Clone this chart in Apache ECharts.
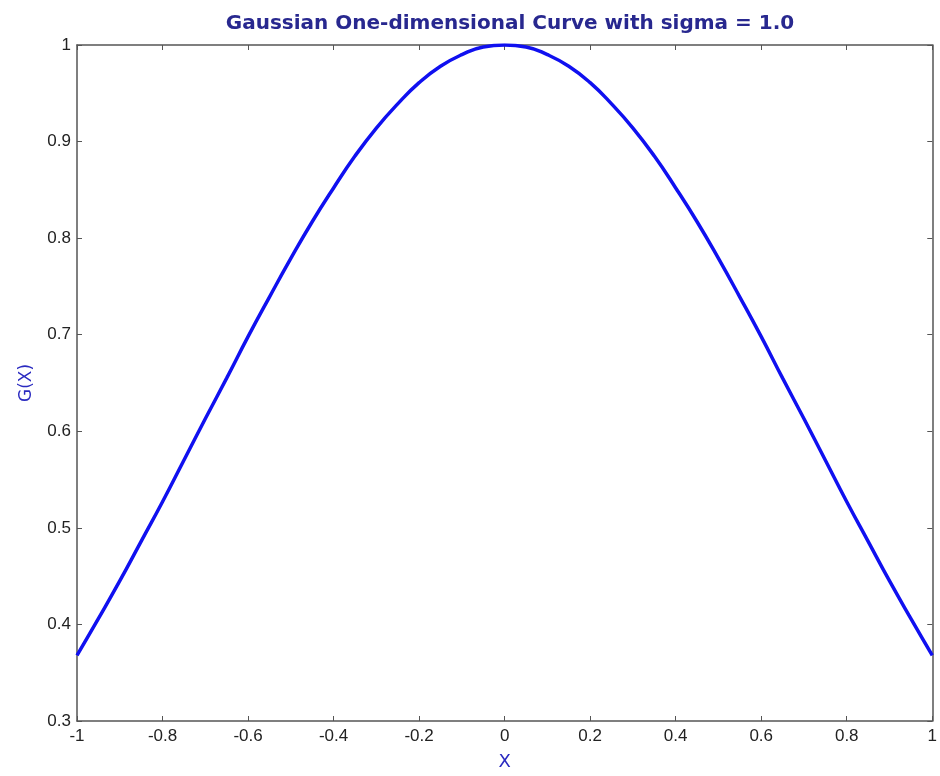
<!DOCTYPE html>
<html>
<head>
<meta charset="utf-8">
<script src="https://cdn.jsdelivr.net/npm/echarts@6/dist/echarts.min.js"></script>
<style>
  html, body { margin: 0; padding: 0; background: #fff; }
  #main { width: 940px; height: 776px; }
</style>
</head>
<body>
<div id="main"></div>
<script>
// x positions and G(x) values
var xValues = [-1, -0.95, -0.9, -0.85, -0.8, -0.75, -0.7, -0.65, -0.6, -0.55, -0.5,
  -0.45, -0.4, -0.35, -0.3, -0.25, -0.2, -0.15, -0.1, -0.05, 0,
  0.05, 0.1, 0.15, 0.2, 0.25, 0.3, 0.35, 0.4, 0.45, 0.5,
  0.55, 0.6, 0.65, 0.7, 0.75, 0.8, 0.85, 0.9, 0.95, 1]
var gValues = [0.368, 0.406, 0.445, 0.486, 0.527, 0.570, 0.613, 0.655, 0.698, 0.739, 0.779,
  0.817, 0.852, 0.885, 0.914, 0.939, 0.961, 0.978, 0.990, 0.998, 1.0,
  0.998, 0.990, 0.978, 0.961, 0.939, 0.914, 0.885, 0.852, 0.817, 0.779,
  0.739, 0.698, 0.655, 0.613, 0.570, 0.527, 0.486, 0.445, 0.406, 0.368]

var titleText = 'Gaussian One-dimensional Curve with sigma = 1.0'
var xName = 'X'
var yName = 'G(X)'

var seriesData = []
for (var i = 0; i < xValues.length; i++) {
  seriesData.push([xValues[i], gValues[i]])
}

var myChart = echarts.init(document.getElementById('main'))

var axisLine = { show: true, onZero: false, lineStyle: { color: '#555', width: 1.5 } }
var tickStyle = { show: true, inside: true, length: 5, lineStyle: { color: '#555' } }
var labelStyle = { color: '#222', fontSize: 17, fontFamily: 'Liberation Sans' }

var option = {
  animation: false,
  backgroundColor: '#fff',
  title: {
    text: titleText,
    left: 505,
    textAlign: 'center',
    top: 9,
    textStyle: { color: '#28288f', fontSize: 20, fontWeight: 'bold', fontFamily: 'DejaVu Sans' }
  },
  grid: { left: 77, right: 6, top: 45, bottom: 54 },
  xAxis: [{
    type: 'value',
    position: 'bottom',
    min: -1,
    max: 1,
    interval: 0.2,
    name: xName,
    nameLocation: 'middle',
    nameGap: 32,
    nameTextStyle: { color: '#2a2ac0', fontSize: 18, fontFamily: 'DejaVu Sans' },
    axisLine: axisLine,
    axisTick: tickStyle,
    axisLabel: Object.assign({ margin: 7 }, labelStyle),
    splitLine: { show: false }
  }, {
    type: 'value',
    position: 'top',
    min: -1,
    max: 1,
    interval: 0.2,
    axisLine: axisLine,
    axisTick: tickStyle,
    axisLabel: { show: false },
    splitLine: { show: false }
  }],
  yAxis: [{
    type: 'value',
    position: 'left',
    min: 0.3,
    max: 1,
    interval: 0.1,
    name: yName,
    nameLocation: 'middle',
    nameGap: 42,
    nameTextStyle: { color: '#2a2ac0', fontSize: 17, fontFamily: 'DejaVu Sans' },
    axisLine: axisLine,
    axisTick: tickStyle,
    axisLabel: Object.assign({ margin: 6 }, labelStyle),
    splitLine: { show: false }
  }, {
    type: 'value',
    position: 'right',
    min: 0.3,
    max: 1,
    interval: 0.1,
    axisLine: axisLine,
    axisTick: tickStyle,
    axisLabel: { show: false },
    splitLine: { show: false }
  }],
  series: [{
    type: 'line',
    data: seriesData,
    smooth: true,
    showSymbol: false,
    lineStyle: { color: '#1010f0', width: 3.5 },
    itemStyle: { color: '#1010f0' }
  }]
}

myChart.setOption(option)
window.onresize = () => {
  myChart.resize()
}
</script>
</body>
</html>
